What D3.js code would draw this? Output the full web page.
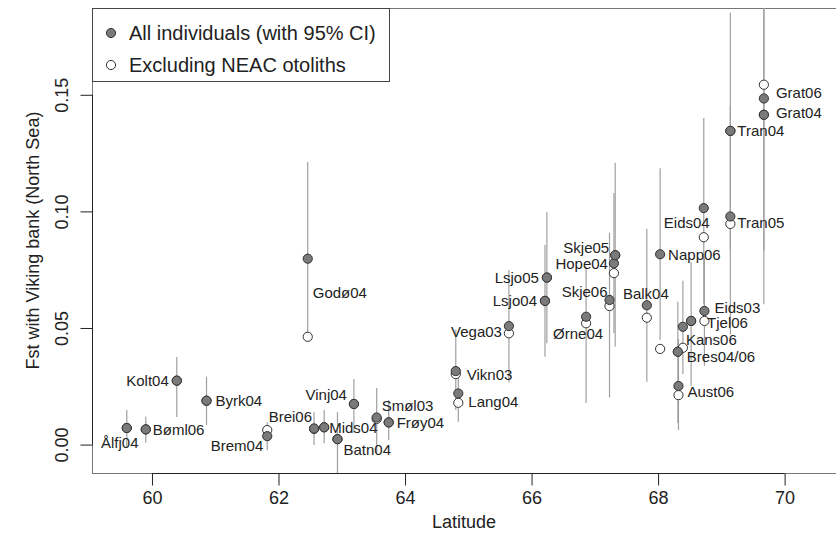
<!DOCTYPE html>
<html>
<head>
<meta charset="utf-8">
<script src="https://cdn.jsdelivr.net/npm/d3@7"></script>
<style>
  html, body { margin: 0; padding: 0; background: #fff; }
  svg { display: block; font-family: "Liberation Sans", Arial, Helvetica, sans-serif; }
</style>
</head>
<body>
<svg id="chart" width="836" height="538"></svg>
<script>
// ---- data ----
const sites = ["Ålfj04","Bøml06","Kolt04","Byrk04","Brem04","Godø04","Brei06","Mids04","Batn04","Vinj04","Smøl03","Frøy04","Vikn03","Lang04","Vega03","Lsjo04","Lsjo05","Ørne04","Skje06","Hope04","Skje05","Balk04","Napp06","Aust06","Bres04/06","Kans06","Tjel06","Eids04","Eids03","Tran04","Tran05","Grat04","Grat06"];
const latitude = [59.61,59.91,60.40,60.87,61.83,62.47,62.57,62.73,62.94,63.20,63.56,63.75,64.81,64.85,65.65,66.22,66.25,66.87,67.24,67.31,67.33,67.83,68.04,68.33,68.32,68.40,68.53,68.73,68.74,69.15,69.15,69.68,69.68];
const fstAll = [0.0069,0.0063,0.0272,0.0186,0.0034,0.0795,0.0067,0.0072,0.0021,0.0172,0.0114,0.0093,0.0313,0.0217,0.0506,0.0614,0.0714,0.0546,0.0618,0.0775,0.0810,0.0595,0.0814,0.0249,0.0396,0.0503,0.0528,0.1012,0.0571,0.1343,0.0976,0.1412,0.1482];
const fstExcl = [0.0069,0.0063,0.0272,0.0186,0.0060,0.0460,0.0065,0.0072,0.0021,0.0172,0.0108,0.0093,0.0300,0.0177,0.0475,0.0614,0.0714,0.0518,0.0592,0.0733,0.0810,0.0542,0.0408,0.0210,0.0396,0.0413,0.0528,0.0887,0.0528,0.1343,0.0944,0.1412,0.1541];
const ciLow = [-0.0013,0.0006,0.0116,0.0082,-0.0026,0.047,-0.0004,0.0004,-0.020,0.005,-0.0039,0.0017,0.0146,0.0096,0.0264,0.0375,0.0432,0.0176,0.020,0.0476,0.0418,0.0267,0.0446,0.006,0.009,0.030,0.025,0.060,0.0336,0.083,0.047,0.083,0.060];
const ciHigh = [0.0146,0.0117,0.0373,0.0289,0.0094,0.121,0.0137,0.0146,0.0137,0.0279,0.024,0.0189,0.049,0.032,0.0747,0.0854,0.0994,0.076,0.0906,0.1077,0.1206,0.0923,0.1183,0.045,0.061,0.070,0.078,0.1398,0.080,0.185,0.145,0.19,0.25];
const xTicks = [60, 62, 64, 66, 68, 70];
const yTicks = [0.00, 0.05, 0.10, 0.15];
const legendLabels = ["All individuals (with 95% CI)", "Excluding NEAC otoliths"];
const xTitle = "Latitude";
const yTitle = "Fst with Viking bank (North Sea)";

// ---- label placement (style) : [dx, dy, anchor] relative to filled point ----
const labelPlacement = {
  "Ålfj04":[-7,15,"middle"], "Bøml06":[7,0,"start"], "Kolt04":[-8,0,"end"], "Byrk04":[9,0,"start"],
  "Brem04":[-4,9,"end"], "Godø04":[5,34,"start"], "Brei06":[-2,-12,"end"], "Mids04":[5,0,"start"],
  "Batn04":[6,10,"start"], "Vinj04":[-7,-9,"end"], "Smøl03":[5,-12,"start"], "Frøy04":[8,0,"start"],
  "Vikn03":[11,3,"start"], "Lang04":[10,8,"start"], "Vega03":[-7,5,"end"], "Lsjo04":[-8,0,"end"],
  "Lsjo05":[-8,0,"end"], "Ørne04":[-8,17,"middle"], "Skje06":[-2,-8,"end"], "Hope04":[-6,0,"end"],
  "Skje05":[-6,-8,"end"], "Balk04":[-1,-12,"middle"], "Napp06":[8,0,"start"], "Aust06":[9,5,"start"],
  "Bres04/06":[9,4.5,"start"], "Kans06":[3,12.5,"start"], "Tjel06":[16,2,"start"], "Eids04":[-17,14,"middle"],
  "Eids03":[10,-3,"start"], "Tran04":[7,0,"start"], "Tran05":[7,6,"start"], "Grat04":[12,-2,"start"],
  "Grat06":[12,-6,"start"]
};

const rows = sites.map((s, i) => ({name: s, lat: latitude[i], all: fstAll[i], excl: fstExcl[i], lo: ciLow[i], hi: ciHigh[i]}));

const svg = d3.select("#chart");
const plot = {left: 92, top: 8, right: 836, bottom: 473};

const x = d3.scaleLinear().domain([59.06, 70.82]).range([plot.left, plot.right]);
const y = d3.scaleLinear().domain([-0.0124, 0.187]).range([plot.bottom, plot.top]);

svg.append("defs").append("clipPath").attr("id", "clip")
  .append("rect").attr("x", plot.left).attr("y", plot.top)
  .attr("width", plot.right - plot.left).attr("height", plot.bottom - plot.top);

// box
svg.append("rect").attr("x", plot.left + 0.5).attr("y", plot.top + 0.5)
  .attr("width", plot.right - plot.left).attr("height", plot.bottom - plot.top)
  .attr("fill", "none").attr("stroke", "#777").attr("stroke-width", 1);

// axes
const xAxis = d3.axisBottom(x).tickValues(xTicks).tickFormat(d3.format("d")).tickSize(12).tickPadding(6);
const gx = svg.append("g").attr("transform", `translate(0.5,${plot.bottom + 0.5})`).call(xAxis);
gx.select(".domain").attr("d", `M${x(60)},0H${x(70)}`).attr("stroke", "#222");
gx.selectAll(".tick line").attr("stroke", "#222");
gx.selectAll(".tick text").attr("font-size", 18).attr("fill", "#222")
  .attr("font-family", "'Liberation Sans', Arial, sans-serif");

const yAxis = d3.axisLeft(y).tickValues(yTicks).tickFormat(d3.format(".2f")).tickSize(12);
const gy = svg.append("g").attr("transform", `translate(${plot.left + 0.5},0.5)`).call(yAxis);
gy.select(".domain").attr("d", `M0,${y(0)}V${y(0.15)}`).attr("stroke", "#222");
gy.selectAll(".tick line").attr("stroke", "#222");
gy.selectAll(".tick text").attr("font-size", 18).attr("fill", "#222")
  .attr("font-family", "'Liberation Sans', Arial, sans-serif")
  .attr("x", null).attr("dy", null)
  .attr("text-anchor", "middle")
  .attr("transform", "translate(-25,0) rotate(-90)")
  .attr("dominant-baseline", "auto");

// titles
svg.append("text").attr("x", (plot.left + plot.right) / 2).attr("y", 528)
  .attr("text-anchor", "middle").attr("font-size", 18).attr("fill", "#222").text(xTitle);
svg.append("text").attr("transform", `translate(39,${(plot.top + plot.bottom) / 2}) rotate(-90)`)
  .attr("text-anchor", "middle").attr("font-size", 18).attr("fill", "#222").text(yTitle);

// CI lines
const g = svg.append("g").attr("clip-path", "url(#clip)");
g.selectAll("line.ci").data(rows).join("line").attr("class", "ci")
  .attr("x1", d => x(d.lat)).attr("x2", d => x(d.lat))
  .attr("y1", d => y(d.lo)).attr("y2", d => y(d.hi))
  .attr("stroke", "#a0a0a0").attr("stroke-width", 1.2);

const r = 4.6;
g.selectAll("circle.excl").data(rows).join("circle").attr("class", "excl")
  .attr("cx", d => x(d.lat)).attr("cy", d => y(d.excl)).attr("r", r)
  .attr("fill", "#fff").attr("stroke", "#333").attr("stroke-width", 1);
g.selectAll("circle.all").data(rows).join("circle").attr("class", "all")
  .attr("cx", d => x(d.lat)).attr("cy", d => y(d.all)).attr("r", r)
  .attr("fill", "#7a7a7a").attr("stroke", "#333").attr("stroke-width", 1);

// point labels
svg.append("g").selectAll("text").data(rows).join("text")
  .attr("x", d => x(d.lat) + labelPlacement[d.name][0])
  .attr("y", d => y(d.all) + labelPlacement[d.name][1])
  .attr("text-anchor", d => labelPlacement[d.name][2])
  .attr("dominant-baseline", "central")
  .attr("font-size", 15).attr("fill", "#222")
  .text(d => d.name);

// legend
const lg = svg.append("g");
lg.append("rect").attr("x", plot.left + 0.5).attr("y", plot.top + 0.5)
  .attr("width", 297).attr("height", 73)
  .attr("fill", "#fff").attr("stroke", "#444").attr("stroke-width", 1);
legendLabels.forEach((t, i) => {
  const cy = 33 + i * 32;
  lg.append("circle").attr("cx", 111).attr("cy", cy).attr("r", r)
    .attr("fill", i === 0 ? "#7a7a7a" : "#fff").attr("stroke", "#333");
  lg.append("text").attr("x", 129).attr("y", cy).attr("dominant-baseline", "central")
    .attr("font-size", 20).attr("fill", "#222").text(t);
});
</script>
</body>
</html>
